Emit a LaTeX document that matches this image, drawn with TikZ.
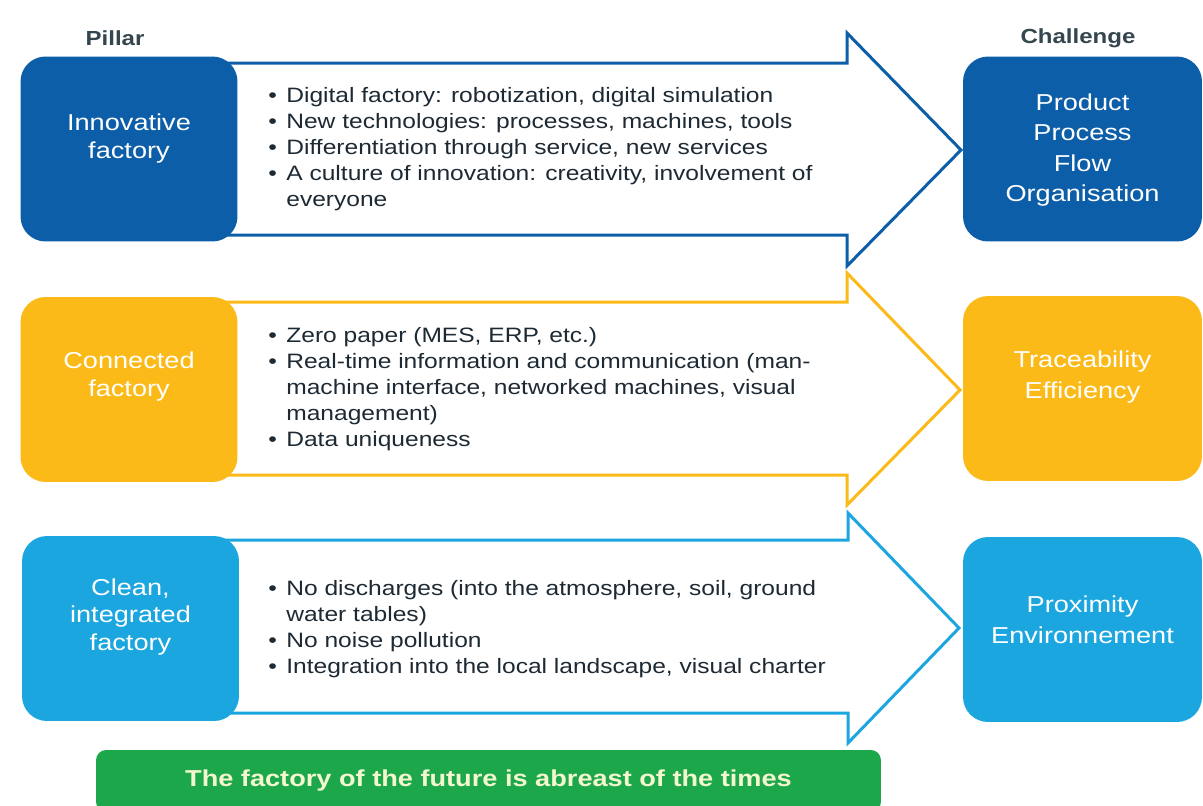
\documentclass[tikz,border=0pt]{standalone}
\usepackage{fontspec}
\setmainfont[FakeStretch=1.18]{Liberation Sans}
\usetikzlibrary{positioning}

\definecolor{innoblue}{HTML}{0D5EA8}
\definecolor{connyellow}{HTML}{FBBA18}
\definecolor{cleanblue}{HTML}{1CA6E0}
\definecolor{mottogreen}{HTML}{1CA84A}
\definecolor{headgray}{HTML}{35464E}
\definecolor{bodygray}{HTML}{1E2A33}
\definecolor{mottotext}{HTML}{F3F6CF}

\newcommand{\itm}{\makebox[0.36cm][l]{\textbullet}}
\newcommand{\cont}{\hspace*{0.36cm}}

\tikzset{
    pillarbox/.style={rounded corners=0.5cm, minimum width=4.34cm, minimum height=3.7cm, inner sep=0pt},
    challengebox/.style={pillarbox, minimum width=4.78cm},
    boxtext/.style={white, align=center, font=\fontsize{13.1}{15.9}\selectfont},
    challengetext/.style={white, align=center, font=\fontsize{13.1}{17.4}\selectfont},
    bodytext/.style={bodygray, align=left, anchor=west, inner sep=0pt, font=\fontsize{11.85}{14.8}\selectfont},
    headtext/.style={headgray, font=\bfseries\fontsize{11.6}{14}\selectfont},
    flow/.style={line width=0.06cm, line join=miter, fill=white},
}

\begin{document}
\begin{tikzpicture}[x=0.02cm, y=-0.02cm]
    \useasboundingbox[fill=white] (0, 0) rectangle (1203, 805);

    \node[headtext] (pillar) at (115, 38) {Pillar};
    \node[headtext] (challenge) at (1078, 38) {Challenge};

    % big arrows behind the boxes
    \draw[flow, draw=innoblue] (225, 63) -- (847, 63) -- (847, 33) -- (961, 150) -- (847, 266) -- (847, 235) -- (225, 235) -- cycle;
    \draw[flow, draw=connyellow] (225, 302) -- (847, 302) -- (847, 273) -- (960, 390) -- (847, 505) -- (847, 475) -- (225, 475) -- cycle;
    \draw[flow, draw=cleanblue] (225, 540) -- (848, 540) -- (848, 513) -- (959, 628) -- (848, 743) -- (848, 713) -- (225, 713) -- cycle;

    % pillars
    \node[pillarbox, fill=innoblue, label={[boxtext, yshift=0.2cm]center:Innovative\\factory}] (inno) at (129, 149) {};
    \node[pillarbox, fill=connyellow, label={[boxtext, yshift=0.25cm]center:Connected\\factory}] (conn) at (129, 389.5) {};
    \node[pillarbox, fill=cleanblue, label={[boxtext, yshift=0.23cm]center:Clean,\\integrated\\factory}] (clean) at (130.5, 628.5) {};

    % challenges
    \node[challengebox, fill=innoblue, label={[challengetext, yshift=-0.02cm]center:Product\\Process\\Flow\\Organisation}] (prod) at (1082.5, 149) {};
    \node[challengebox, fill=connyellow, label={[challengetext, yshift=0.23cm]center:Traceability\\Efficiency}] (trace) at (1082.5, 388.5) {};
    \node[challengebox, fill=cleanblue, label={[challengetext, yshift=0.19cm]center:Proximity\\Environnement}] (prox) at (1082.5, 629.5) {};

    % contents of the arrows
    \node[bodytext] (inno list) at (268, 149.5) {\itm Digital factory: robotization, digital simulation\\
        \itm New technologies: processes, machines, tools\\
        \itm Differentiation through service, new services\\
        \itm A culture of innovation: creativity, involvement of\\
        \cont everyone};
    \node[bodytext] (conn list) at (268, 389.5) {\itm Zero paper (MES, ERP, etc.)\\
        \itm Real-time information and communication (man-\\
        \cont machine interface, networked machines, visual\\
        \cont management)\\
        \itm Data uniqueness};
    \node[bodytext] (clean list) at (268, 629) {\itm No discharges (into the atmosphere, soil, ground\\
        \cont water tables)\\
        \itm No noise pollution\\
        \itm Integration into the local landscape, visual charter};

    \node[fill=mottogreen, rounded corners=0.2cm, minimum width=15.7cm, minimum height=1.24cm,
        text=mottotext, font=\bfseries\fontsize{13.1}{15}\selectfont] (motto) at (488.5, 781) {The factory of the future is abreast of the times};
\end{tikzpicture}
\end{document}
